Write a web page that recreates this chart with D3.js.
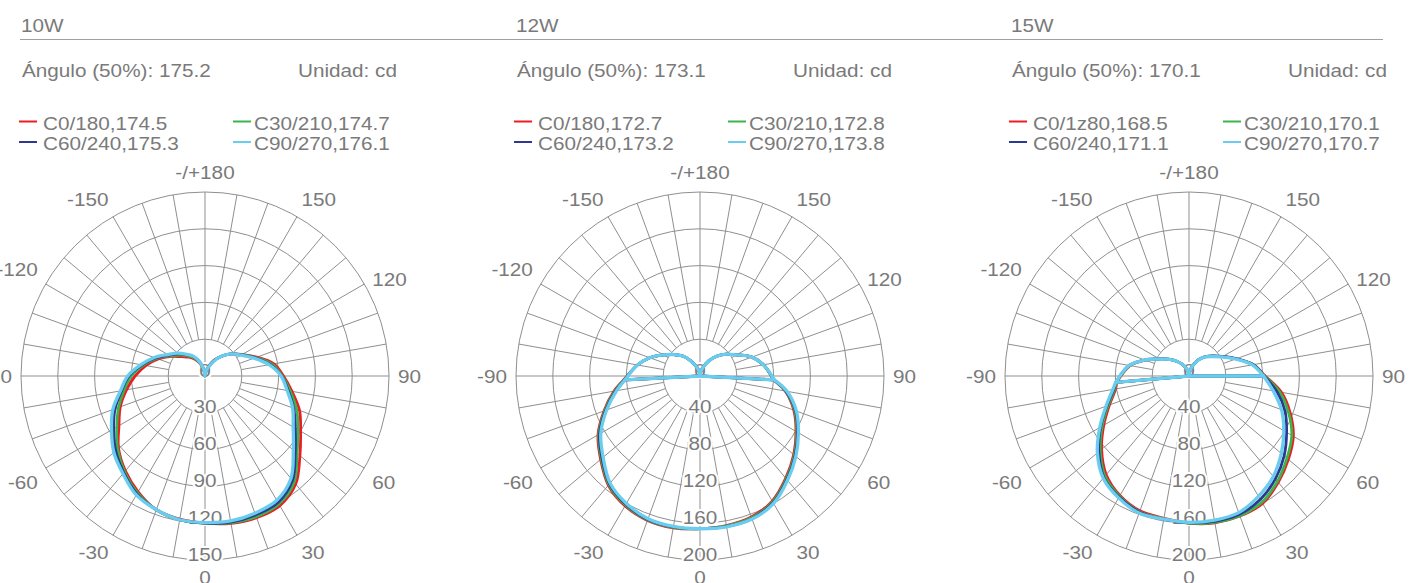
<!DOCTYPE html>
<html><head><meta charset="utf-8">
<script src="https://cdn.jsdelivr.net/npm/d3@7"></script>
<style>
html,body{margin:0;padding:0;background:#fff;}
svg{display:block;font-family:"Liberation Sans",Arial,Helvetica,sans-serif;}
</style>
</head><body>
<svg id="chart" width="1423" height="583"></svg>
<script>
// ---------------- data ----------------
const PANELS = ["10W", "12W", "15W"];
const BEAM_ANGLE = ["175.2", "173.1", "170.1"];
const UNIT_LABEL = "Unidad: cd";
const LEGEND_10W = ["C0/180,174.5", "C30/210,174.7", "C60/240,175.3", "C90/270,176.1"];
const LEGEND_12W = ["C0/180,172.7", "C30/210,172.8", "C60/240,173.2", "C90/270,173.8"];
const LEGEND_15W = ["C0/1z80,168.5", "C30/210,170.1", "C60/240,171.1", "C90/270,170.7"];
const RADIAL_TICKS_10W = [0, 30, 60, 90, 120, 150];
const RADIAL_TICKS_12W = [0, 40, 80, 120, 160, 200];
const RADIAL_TICKS_15W = [0, 40, 80, 120, 160, 200];
const ANGLE_LABELS = [0, 30, 60, 90, 120, 150, 180, -150, -120, -90, -60, -30];

// measurement angles (gamma, degrees; 0 = straight down, + towards the right)
const GAMMA_10W = [-180,-170,-160,-150,-140,-130,-120,-110,-100,-90,-80,-70,-60,-50,-40,-30,-20,-10,
                   0,10,20,30,40,50,60,70,80,90,100,110,120,130,140,150,160,170,180];
const GAMMA_12W = [-180,-170,-160,-150,-140,-130,-120,-110,-100,-87,-80,-70,-60,-50,-40,-30,-20,-10,
                   0,10,20,30,40,50,60,70,80,87,100,110,120,130,140,150,160,170,180];
const GAMMA_15W = [-180,-170,-160,-150,-140,-130,-120,-110,-100,-85,-80,-70,-60,-50,-40,-30,-20,-10,
                   0,10,20,30,40,50,60,70,80,90,100,110,120,130,140,150,160,170,180];

// intensities (cd) at each gamma angle
const W10_C0  = [0,4,10,15.5,20,24.5,32,40.5,49,57, 65,73.5,81,92,101,109,116,118.5,120, 122,123,122,115,101,90,82,72,64, 57,45,35,28,21,15,8,3,0];
const W10_C30 = [0,4.5,11,17,21.5,26.5,33,42,51,60, 67,75,83,93,102,110,116,119,120, 121.5,122,120.5,113,98,87.5,79.5,70.5,63, 55.5,44,35,28,21,14.5,7.5,3,0];
const W10_C60 = [0,5,12,18,22.5,28,34,43,52,62, 69,78,86,95,103,111,116,119,120, 121,120.5,119,111,96,85,77,69,62.5, 54,43.5,34.5,28,21,14,7,3,0];
const W10_C90 = [0,5,12,18.5,23,29,35,44,53,63, 70,80,88,97,104,112,116,119,119.5, 120,119,117,109,94,83,76,68,62, 53,42.5,34,28,21,13.5,7,3,0];

const W12_C0  = [0,4,10,18,28,36,46,58,69,83, 95,111,128,141,155,163,167,167.5,166, 165,163,157,145,133,120.5,108.5,94,80, 70,60,46,37,28,19,10,4,0];
const W12_C30 = [0,4,10,18,28,36,46,58,69,82.5, 94,110,127,140,154,162,166.5,167,166, 165.5,164,158,146,134,121.5,109.5,94.5,80, 70,60,46,37,28,19,10,4,0];
const W12_C60 = [0,4,10,18,28,36,46,58,69,82, 93,109,126,139,153,161,166,166.5,166, 166,165,159,147,135,122.5,110.5,95,80.5, 70,60,46,37,28,19,10,4,0];
const W12_C90 = [0,4,10,18,28,36,46,58,69,81.5, 92,108,124.5,137.5,152,160,165,166,166, 166.5,165.5,160,148,136,123.5,111.5,96,81, 70,60,46,37,28,19,10,4,0];

const W15_C0  = [0,4,9,15,21,28,37,50.5,65,79, 81,92,107,124,140,150,156,157,160, 162,162,160,151,141,131,117,102,82.5, 71,54.5,42,33.5,27,20,12,5,0];
const W15_C30 = [0,4,9,15,21,28,37,50.5,65.5,79.5, 82,93.5,109,126,142,151,157,157.5,160, 161.5,161.5,158.5,149.5,139,129,115,100,82, 71,54.5,42,33.5,27,20,12,5,0];
const W15_C60 = [0,4,9,15,21,28.5,37.5,51,66,80, 83,95,111,128,144,152,157.5,158,159.5, 160.5,160,155,146,135,122.5,111,97,81.5, 71,55,42.5,34,27.5,20.5,12,5,0];
const W15_C90 = [0,4,9,15,21,28,37,51,66,80, 84,96,112,130,145,153,158.5,158,159, 159,158,151,142.5,131,119,107,93,81, 70,54,41.5,33,27,20,12,5,0];

// ---------------- layout / style ----------------
const COLORS = ["#ec1c24", "#3cb44a", "#2b3990", "#6acdf0"];
const WIDTHS = [2.8, 2.8, 2.8, 3.3];
const TEXT = "#7a7a7a";
const GRID = "#8f8f8f";
const FS = 18.5;
const SX = 1.12;   // the reference typeface is wider than Liberation Sans
const LABEL_NUDGE = {"0": -3, "60": 4.5, "-60": 4.5, "120": 5, "-120": -5};

const panels = [
  {title: PANELS[0], beam: BEAM_ANGLE[0], legend: LEGEND_10W, ticks: RADIAL_TICKS_10W, gamma: GAMMA_10W,
   series: [W10_C0, W10_C30, W10_C60, W10_C90], left: 22, cx: 205, chord: false},
  {title: PANELS[1], beam: BEAM_ANGLE[1], legend: LEGEND_12W, ticks: RADIAL_TICKS_12W, gamma: GAMMA_12W,
   series: [W12_C0, W12_C30, W12_C60, W12_C90], left: 517, cx: 700, chord: true},
  {title: PANELS[2], beam: BEAM_ANGLE[2], legend: LEGEND_15W, ticks: RADIAL_TICKS_15W, gamma: GAMMA_15W,
   series: [W15_C0, W15_C30, W15_C60, W15_C90], left: 1012, cx: 1189, chord: true}
];
const CY = 376, R = 184;

const svg = d3.select("#chart");
svg.append("line").attr("x1", 20).attr("x2", 1383).attr("y1", 39.5).attr("y2", 39.5)
  .attr("stroke", "#a0a0a0").attr("stroke-width", 1.2);

function label(parent, x, y, str, anchor) {
  return parent.append("text")
    .attr("transform", `translate(${x},${y}) scale(${SX},1)`)
    .attr("text-anchor", anchor || "start")
    .attr("font-size", FS).attr("fill", TEXT).text(str);
}

const toA = g => Math.PI - g * Math.PI / 180;

panels.forEach(p => {
  const g = svg.append("g");
  label(g, p.left - 1, 31.5, p.title);
  label(g, p.left, 77, "Ángulo (50%): " + p.beam);
  label(g, p.left + 276, 77, UNIT_LABEL);

  // legend
  const lpos = [[0, 0], [1, 0], [0, 1], [1, 1]];
  p.legend.forEach((t, i) => {
    const [c, r] = lpos[i];
    const mx = p.left + (c ? 211 : -3);
    const tx = p.left + (c ? 232 : 21);
    const by = 129.5 + r * 20.5;
    g.append("line").attr("x1", mx).attr("x2", mx + 18).attr("y1", by - 8).attr("y2", by - 8)
      .attr("stroke", COLORS[i]).attr("stroke-width", 2);
    label(g, tx, by, t);
  });

  // polar grid
  const maxV = p.ticks[p.ticks.length - 1];
  const rs = d3.scaleLinear().domain([0, maxV]).range([0, R]);
  const pg = svg.append("g").attr("transform", `translate(${p.cx},${CY})`);
  const grid = pg.append("g").attr("fill", "none").attr("stroke", GRID).attr("stroke-width", 1);
  p.ticks.slice(1).forEach(t => grid.append("circle").attr("r", rs(t)));
  d3.range(-170, 181, 10).forEach(a => {
    const r0 = (a % 90 === 0) ? 0 : rs(p.ticks[1]);
    const p0 = d3.pointRadial(toA(a), r0), p1 = d3.pointRadial(toA(a), R);
    grid.append("line").attr("x1", p0[0]).attr("y1", p0[1]).attr("x2", p1[0]).attr("y2", p1[1]);
  });

  // radial labels (with white halo)
  p.ticks.forEach(t => {
    label(pg, 0, rs(t) + 0.5, t, "middle")
      .attr("stroke", "#fff").attr("stroke-width", 4).attr("paint-order", "stroke");
  });

  // angle labels
  ANGLE_LABELS.forEach(a => {
    const s = Math.sin(a * Math.PI / 180), c = Math.cos(a * Math.PI / 180);
    let anchor = "middle", x = 0;
    if (Math.abs(s) > 0.01) { x = 193 * s; anchor = s > 0 ? "start" : "end"; }
    const y = 204 * c + 6.6 + (LABEL_NUDGE[String(a)] || 0);
    label(pg, x, y, a === 180 ? "-/+180" : String(a), anchor);
  });

  // curves
  const cg = pg.append("g").attr("fill", "none").attr("stroke-linejoin", "round").attr("stroke-linecap", "round");
  const line = d3.lineRadial().angle(d => toA(d.a)).radius(d => rs(d.v));
  const lo = p.gamma[9], hi = p.gamma[27];
  p.series.forEach((vals, si) => {
    const all = p.gamma.map((a, i) => ({a, v: vals[i]}));
    const style = sel => sel.attr("stroke", COLORS[si]).attr("stroke-width", WIDTHS[si]);
    if (!p.chord) {
      const loop = all.filter(d => d.a !== 180);
      cg.append("path").call(style)
        .attr("d", line.curve(d3.curveCatmullRomClosed.alpha(0.5))(loop));
    } else {
      const lower = all.filter(d => d.a >= lo && d.a <= hi);
      const upper = all.filter(d => d.a >= hi).concat(all.filter(d => d.a > -180 && d.a <= lo));
      cg.append("path").call(style).attr("d", line.curve(d3.curveCatmullRom.alpha(0.5))(lower));
      cg.append("path").call(style).attr("d", line.curve(d3.curveCatmullRom.alpha(0.5))(upper));
      const left = all[9], right = all[27];
      cg.append("path").call(style)
        .attr("d", line.curve(d3.curveLinear)([left, {a: 0, v: 0}, right]));
    }
  });
});
</script>
</body></html>
